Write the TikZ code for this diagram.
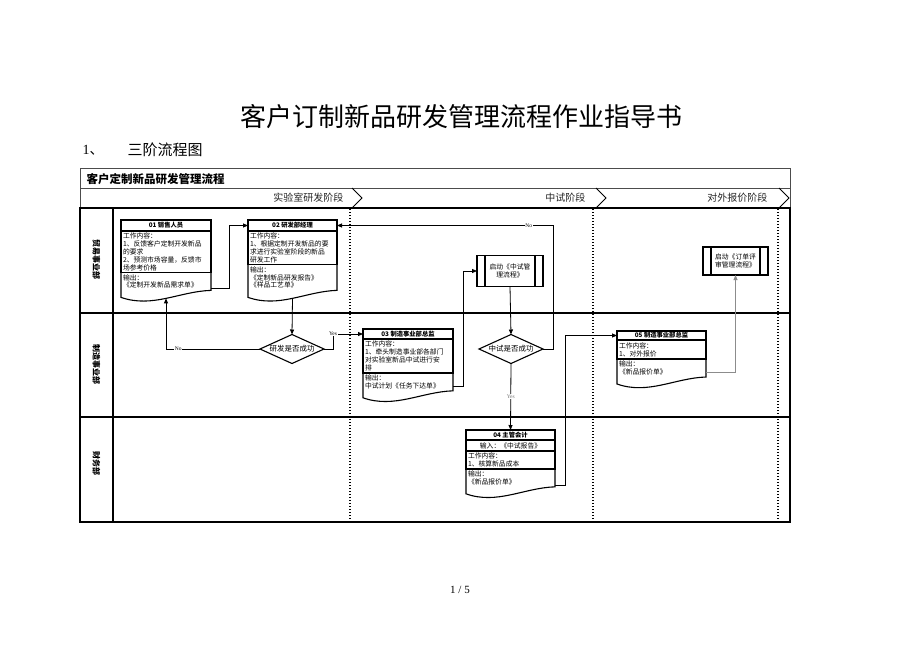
\documentclass[tikz,border=0pt]{standalone}
\usepackage{fontspec}
\setmainfont{Noto Sans CJK SC}
\newfontfamily\latf{Liberation Serif}
\usetikzlibrary{arrows.meta,shapes.geometric,calc}
\newcommand\docwave[1]{\draw[boxline] (#1.north east) -- (#1.south east) .. controls ($(#1.south east)!0.35!(#1.south west)+(0,1)$) and ($(#1.south east)!0.65!(#1.south west)+(0,18)$) .. ($(#1.south west)+(0,7)$) -- (#1.north west);}
\newcommand\procbars[1]{\draw[boxline] ($(#1.north west)+(8,0)$) -- ($(#1.south west)+(8,0)$) ($(#1.north east)+(-8,0)$) -- ($(#1.south east)+(-8,0)$);}
\tikzset{
  boxline/.style={line width=1.1pt, black},
  hdr/.style={draw=black, line width=1.1pt, inner sep=0pt, outer sep=0pt, anchor=north west,
    font=\fontsize{6.3}{7}\selectfont\bfseries},
  sec/.style={draw=black, line width=1.1pt, inner xsep=2pt, inner ysep=1.8pt, outer sep=0pt, align=left,
    anchor=north west, font=\fontsize{6.8}{7.9}\selectfont},
  osec/.style={inner xsep=2pt, inner ysep=1.8pt, outer sep=0pt, align=left, anchor=north west,
    font=\fontsize{6.8}{7.9}\selectfont},
  proc/.style={draw=black, line width=1.1pt, inner sep=0pt, outer sep=0pt, align=center,
    font=\fontsize{6.8}{8}\selectfont},
  dia/.style={diamond, draw=black, line width=1.1pt, inner sep=0pt, outer sep=0pt,
    minimum width=64pt, minimum height=29pt},
  dtext/.style={font=\fontsize{7.5}{8}\selectfont},
  conn/.style={line width=0.8pt, black, -{Triangle[length=5pt,width=4pt]}},
  lbl/.style={fill=white, inner sep=0.6pt, font=\latf\fontsize{5.5}{6}\selectfont},
  phase/.style={anchor=east, text=black!85, font=\fontsize{10}{11}\selectfont},
  lanelbl/.style={rotate=-90, font=\fontsize{8}{9}\selectfont\bfseries},
  thinfr/.style={line width=0.6pt, black!70},
  lanefr/.style={line width=1.2pt, black},
  phasesep/.style={line width=1.5pt, dash pattern=on 1.3pt off 1.7pt, black},
  chev/.style={line width=0.9pt, black}
}
\begin{document}
\begin{tikzpicture}[x=1pt,y=-1pt]
\useasboundingbox (0,0) rectangle (920,651);
\fill[white] (0,0) rectangle (920,651);

% title and heading
\node[font=\fontsize{26}{28}\selectfont] (title) at (461,117) {客户订制新品研发管理流程作业指导书};
\node[anchor=west, font=\fontsize{14}{16}\selectfont] (secno) at (79,150) {{\latf 1}、};
\node[anchor=west, font=\fontsize{15}{16}\selectfont] (sect) at (124,150) {三阶流程图};
\node[font=\latf\fontsize{11}{12}\selectfont] (pg) at (460,590) {1 / 5};

% frame
\draw[thinfr] (80,168) rectangle (790,208);
\draw[thinfr] (80,188) -- (790,188);
\node[anchor=west, font=\fontsize{11.5}{12}\selectfont\bfseries] (hdrt) at (83,179) {客户定制新品研发管理流程};
\node[phase] (p1) at (347,198) {实验室研发阶段};
\node[phase] (p2) at (589,198) {中试阶段};
\node[phase] (p3) at (771,198) {对外报价阶段};
\draw[chev] (352,188) -- (362,198) -- (352,208);
\draw[chev] (596,188) -- (606,198) -- (596,208);
\draw[chev] (779,188) -- (789,198) -- (779,208);

\draw[phasesep] (350,209) -- (350,521);
\draw[phasesep] (593,209) -- (593,521);
\draw[phasesep] (778,209) -- (778,521);

\draw[lanefr] (80,208) rectangle (790,522);
\draw[lanefr] (113,208) -- (113,522);
\draw[lanefr] (80,313) -- (790,313);
\draw[lanefr] (80,417) -- (790,417);
\node[lanelbl] (l1) at (96.5,259) {贸易事业部};
\node[lanelbl] (l2) at (96.5,364) {制造事业部};
\node[lanelbl] (l3) at (96.5,463) {财务部};

% Box 01
\node[hdr, minimum width=90pt, minimum height=11pt] (b1h) at (121,220) {01 销售人员};
\node[sec, text width=86pt, minimum height=40pt] (b1c) at (b1h.south west) {工作内容：\\1、反馈客户定制开发新品\\的要求\\2、预测市场容量，反馈市\\场参考价格};
\node[osec, text width=86pt, minimum height=16pt] (b1o) at (b1c.south west) {输出：\\《定制开发新品需求单》};
\docwave{b1o}

% Box 02
\node[hdr, minimum width=89pt, minimum height=11pt] (b2h) at (248,220) {02 研发部经理};
\node[sec, text width=85pt, minimum height=32pt] (b2c) at (b2h.south west) {工作内容：\\1、根据定制开发新品的要\\求进行实验室阶段的新品\\研发工作};
\node[osec, text width=85pt, minimum height=22pt] (b2o) at (b2c.south west) {输出：\\《定制新品研发报告》\\《样品工艺单》};
\docwave{b2o}

% Box 03
\node[hdr, minimum width=90pt, minimum height=10pt] (b3h) at (363,329) {03 制造事业部总监};
\node[sec, text width=86pt, minimum height=34pt] (b3c) at (b3h.south west) {工作内容：\\1、牵头制造事业部各部门\\对实验室新品中试进行安\\排};
\node[osec, text width=86pt, minimum height=17pt] (b3o) at (b3c.south west) {输出：\\中试计划《任务下达单》};
\docwave{b3o}

% Box 04
\node[hdr, minimum width=89pt, minimum height=10pt] (b4h) at (466,430) {04 主管会计};
\node[sec, text width=85pt, minimum height=11pt, align=center] (b4i) at (b4h.south west) {输入：《中试报告》};
\node[sec, text width=85pt, minimum height=18pt] (b4c) at (b4i.south west) {工作内容：\\1、核算新品成本};
\node[osec, text width=85pt, minimum height=17pt] (b4o) at (b4c.south west) {输出：\\《新品报价单》};
\docwave{b4o}

% Box 05
\node[hdr, minimum width=89pt, minimum height=9pt] (b5h) at (617,331) {05 制造事业部总监};
\node[sec, text width=85pt, minimum height=19pt] (b5c) at (b5h.south west) {工作内容：\\1、对外报价};
\node[osec, text width=85pt, minimum height=18pt] (b5o) at (b5c.south west) {输出：\\《新品报价单》};
\docwave{b5o}

% predefined process boxes
\node[proc, minimum width=66pt, minimum height=31pt] (sa) at (510,271) {启动《中试管\\理流程》};
\procbars{sa}
\node[proc, minimum width=65pt, minimum height=28pt] (sb) at (735.5,261) {启动《订单评\\审管理流程》};
\procbars{sb}

% decisions
\node[dia] (d1) at (292,349) {};
\node[dtext] (d1t) at (d1) {研发是否成功};
\node[dia] (d2) at (511,349) {};
\node[dtext] (d2t) at (d2) {中试是否成功};

% connectors
\draw[conn] ($(b1o.south east)+(0,-2)$) -- ++(18,0) |- (b2h.west);
\draw[conn] ($(b2o.south)+(0,8)$) -- (d1.north);
\draw[conn] (d1.west) -- node[lbl, pos=0.87] {No} (d1.west -| b1o.south) -- ($(b1o.south)+(0,8)$);
\draw[conn] (d1.east) -- ++(9,0) |- node[lbl, pos=0.5] {Yes} (b3h.west);
\draw[conn] ($(b3o.south east)+(0,-4)$) -- ++(10,0) |- (sa.west);
\draw[conn] (sa.south) -- (d2.north);
\draw[conn] (d2.east) -- ++(10,0) |- node[lbl, pos=0.556] {No} (b2h.east);
\draw[conn] (d2.south) -- node[lbl, text=black!55, pos=0.5] {Yes} (b4h.north);
\draw[conn] ($(b4o.south east)+(0,-1)$) -- ++(10,0) |- (b5h.west);
\draw[conn, black!45] ($(b5o.south east)+(0,-5)$) -| (sb.south);
\end{tikzpicture}
\end{document}
